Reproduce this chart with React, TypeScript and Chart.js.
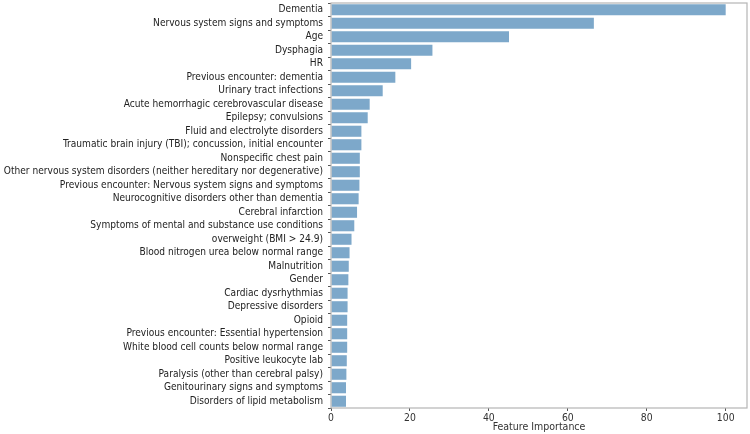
import React, { useEffect, useRef } from "react";
import { Chart, registerables } from "chart.js";

Chart.register(...registerables);

const categories = [
  "Dementia",
  "Nervous system signs and symptoms",
  "Age",
  "Dysphagia",
  "HR",
  "Previous encounter: dementia",
  "Urinary tract infections",
  "Acute hemorrhagic cerebrovascular disease",
  "Epilepsy; convulsions",
  "Fluid and electrolyte disorders",
  "Traumatic brain injury (TBI); concussion, initial encounter",
  "Nonspecific chest pain",
  "Other nervous system disorders (neither hereditary nor degenerative)",
  "Previous encounter: Nervous system signs and symptoms",
  "Neurocognitive disorders other than dementia",
  "Cerebral infarction",
  "Symptoms of mental and substance use conditions",
  "overweight (BMI > 24.9)",
  "Blood nitrogen urea below normal range",
  "Malnutrition",
  "Gender",
  "Cardiac dysrhythmias",
  "Depressive disorders",
  "Opioid",
  "Previous encounter: Essential hypertension",
  "White blood cell counts below normal range",
  "Positive leukocyte lab",
  "Paralysis (other than cerebral palsy)",
  "Genitourinary signs and symptoms",
  "Disorders of lipid metabolism",
];

const importance = [
  100, 66.6, 45.1, 25.7, 20.3, 16.3, 13.1, 9.8, 9.3, 7.7, 7.7, 7.3, 7.3, 7.2,
  7.0, 6.6, 5.9, 5.2, 4.7, 4.5, 4.4, 4.2, 4.2, 4.1, 4.1, 4.1, 4.0, 3.9, 3.8,
  3.8,
];

const xTicks = [0, 20, 40, 60, 80, 100];
const xMax = 105.4;
const xTitle = "Feature Importance";

const FONT = "'DejaVu Sans Condensed', 'Liberation Sans Narrow', 'Liberation Sans', sans-serif";

const boxPlugin = {
  id: "boxBorder",
  afterDraw(chart: any) {
    const { ctx, chartArea } = chart;
    ctx.save();
    ctx.strokeStyle = "#b5b5b5";
    ctx.lineWidth = 1.2;
    ctx.strokeRect(
      chartArea.left,
      chartArea.top,
      chartArea.right - chartArea.left,
      chartArea.bottom - chartArea.top
    );
    ctx.restore();
  },
};

export default function App() {
  const ref = useRef<HTMLCanvasElement>(null);

  useEffect(() => {
    const chart = new Chart(ref.current!, {
      type: "bar",
      data: {
        labels: categories,
        datasets: [
          {
            data: importance,
            backgroundColor: "rgb(125,168,202)",
            borderWidth: 0,
            barPercentage: 0.82,
            categoryPercentage: 1.0,
          },
        ],
      },
      options: {
        indexAxis: "y",
        animation: false,
        responsive: false,
        maintainAspectRatio: false,
        layout: { padding: { top: 3, right: 3, left: 0, bottom: 0 } },
        plugins: {
          legend: { display: false },
          tooltip: { enabled: false },
        },
        scales: {
          x: {
            min: 0,
            max: xMax,
            afterBuildTicks: (scale: any) => {
              scale.ticks = xTicks.map((v) => ({ value: v }));
            },
            afterFit: (scale: any) => {
              scale.height = 26;
            },
            grid: {
              drawOnChartArea: false,
              drawTicks: true,
              tickLength: 3,
              color: "#555",
            },
            border: { display: false },
            ticks: {
              color: "#333",
              font: { family: FONT, size: 10.3 },
              padding: 1,
              maxRotation: 0,
            },
            title: {
              display: true,
              text: xTitle,
              color: "#333",
              font: { family: FONT, size: 10.5 },
              padding: { top: 0, bottom: 0.5 },
            },
          },
          y: {
            afterFit: (scale: any) => {
              scale.width = 331;
              scale.paddingTop = 0;
              scale.paddingBottom = 0;
            },
            grid: {
              drawOnChartArea: false,
              drawTicks: true,
              tickLength: 3,
              color: "#555",
            },
            border: { display: false },
            ticks: {
              color: "#222",
              font: { family: FONT, size: 10.1 },
              padding: 5,
              autoSkip: false,
            },
          },
        },
      },
      plugins: [boxPlugin],
    });
    return () => chart.destroy();
  }, []);

  return (
    <div style={{ position: "fixed", left: 0, top: 0, width: 750, height: 434, background: "#fff" }}>
      <canvas ref={ref} width={750} height={434} />
    </div>
  );
}
